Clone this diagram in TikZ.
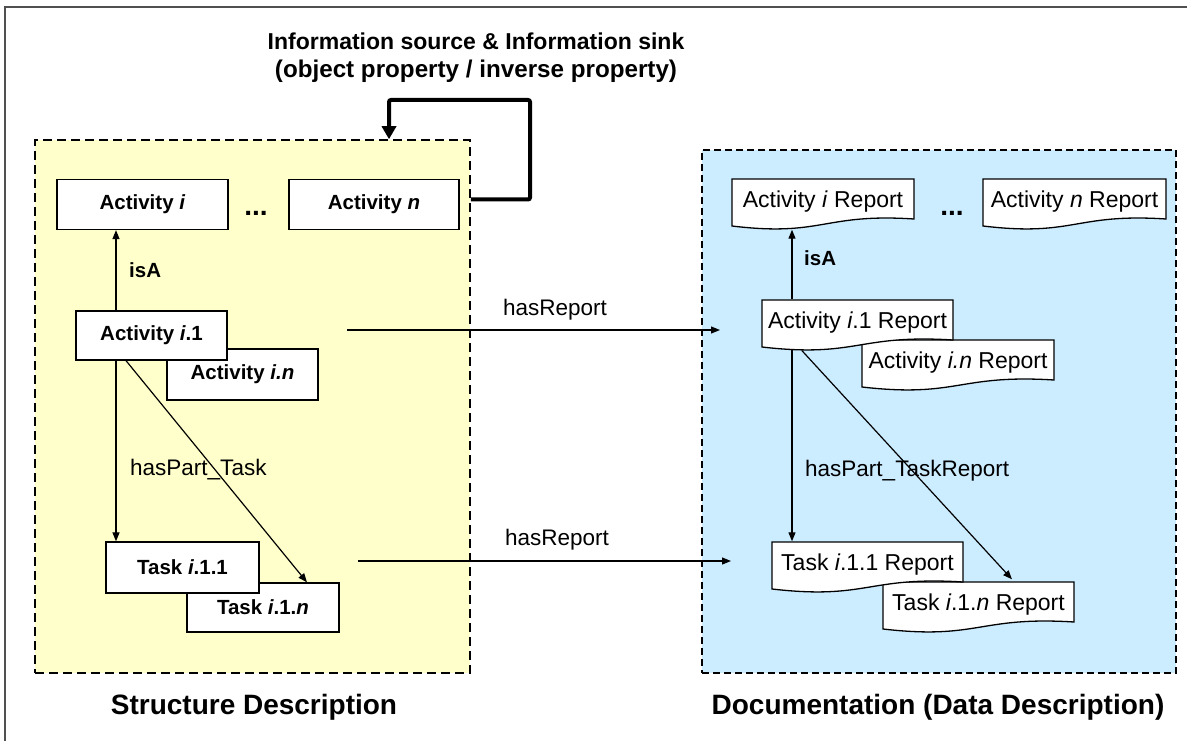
\documentclass[tikz,border=0pt]{standalone}
\usepackage{fontspec}
\setmainfont{Liberation Sans}
\usetikzlibrary{arrows.meta,calc}
\definecolor{yellowbg}{HTML}{FFFFCC}
\definecolor{bluebg}{HTML}{CCECFF}
\definecolor{framegray}{HTML}{505050}
\newcommand{\fs}[1]{\fontsize{#1}{#1}\selectfont}
\tikzset{
  boxnode/.style={draw=black, fill=white, line width=1.3pt, minimum height=50pt, inner sep=0pt, font=\fs{20.5}\bfseries},
  reptext/.style={inner sep=0pt, minimum height=47pt, font=\fs{23}},
  docline/.style={draw=black, fill=white, line width=1.3pt, line join=miter},
  lbl/.style={inner sep=0pt, font=\fs{22.5}},
  lblb/.style={inner sep=0pt, font=\fs{20.5}\bfseries},
  arr/.style={line width=1.2pt, -{Triangle[length=9pt,width=7pt]}},
  loopline/.style={line width=4pt, rounded corners=2pt, -{Triangle[length=13pt,width=14pt]}},
  region/.style={draw=black, line width=1.5pt, dash pattern=on 9pt off 5pt, inner sep=0pt},
  caption/.style={font=\fs{28}\bfseries, inner sep=0pt},
  titletext/.style={font=\fs{23}\bfseries, inner sep=0pt},
  ellipsis/.style={font=\fs{28}\bfseries, inner sep=0pt},
}
\newcommand{\docnode}[5]{%
  \begin{scope}[shift={(#2,#3)}]
    \draw[docline] (0,0) -- (#4,0) -- (#4,40) .. controls ({0.5*#4},34) and ({0.5*#4},58) .. (0,47) -- cycle;
  \end{scope}
  \node[reptext, minimum width=#4pt] (#1) at ({#2+0.5*#4},{#3+23}) {#5};}
\begin{document}
\begin{tikzpicture}[x=1pt,y=-1pt]
\useasboundingbox (0,0) rectangle (1187,741);
\draw[framegray, line width=2pt] (5,741) -- (5,7) -- (1187,7);

% regions
\node[region, fill=yellowbg, minimum width=435pt, minimum height=533pt] (left) at (252.5,406.5) {};
\node[region, fill=bluebg, line width=1.2pt, dash pattern=on 7pt off 4pt, minimum width=474pt, minimum height=523pt] (right) at (939,411.5) {};

% title
\node[titletext] (title1) at (476,41) {Information source \& Information sink};
\node[titletext, font=\fs{24.2}\bfseries] (title2) at (476,71) {(object property / inverse property)};

% left nodes
\node[boxnode, minimum width=171pt] (acti) at (142.5,204.5) {Activity \textit{i}};
\node[boxnode, minimum width=170pt] (actn) at (374,204.5) {Activity \textit{n}};
\node[ellipsis] (dotsL) at (256,213) {...};
\node[boxnode, minimum width=151pt, minimum height=51pt] (actin) at (242.5,374.5) {Activity \textit{i.n}};
\node[boxnode, minimum width=151pt, minimum height=49pt] (acti1) at (151.5,335.5) {Activity \textit{i}.1};
\node[boxnode, minimum width=152pt, minimum height=49pt] (taskn) at (263,607.5) {Task \textit{i}.1.\textit{n}};
\node[boxnode, minimum width=153pt, minimum height=51pt] (task1) at (182.5,567.5) {Task \textit{i}.1.1};

% loop
\coordinate (ls) at ($(actn.east -| left.east)+(0,-5)$);
\coordinate (lt) at (530,100);
\coordinate (ld) at (389,100);
\draw[loopline] (ls) -| (lt) -- (ld) -- (left.north -| ld);

% left connectors
\coordinate (xL) at (116,0);
\coordinate (xd1) at (126,0);
\coordinate (xd2) at (307,0);
\draw[arr] (acti1.north -| xL) -- (acti.south -| xL);
\node[lblb, anchor=west] (isaL) at (129,270) {isA};
\draw[arr] (acti1.south -| xL) -- (task1.north -| xL);
\draw[arr] (acti1.south -| xd1) -- (taskn.north -| xd2);
\node[lbl, anchor=west] (hpt) at (130,470) {hasPart\_Task};

% right nodes
\docnode{repi}{732}{179}{182}{Activity \textit{i} Report}
\docnode{repn}{983}{179}{183}{Activity \textit{n} Report}
\node[ellipsis] (dotsR) at (952,213) {...};
\docnode{repin}{862}{340}{192}{Activity \textit{i.n} Report}
\docnode{repi1}{762}{300}{191}{Activity \textit{i}.1 Report}
\docnode{reptn}{883}{582}{191}{Task \textit{i}.1.\textit{n} Report}
\docnode{rept1}{772}{542}{191}{Task \textit{i}.1.1 Report}

% right connectors
\coordinate (xR) at (792,0);
\coordinate (xr1) at (802,0);
\coordinate (xr2) at (1012,0);
\coordinate (repiB) at ($(repi.south -| xR)+(0,4)$);
\draw[arr] (repi1.north -| xR) -- (repiB);
\node[lblb, anchor=west] (isaR) at (804,258) {isA};
\coordinate (ri1a) at ($(repi1.south -| xR)+(0,3)$);
\coordinate (ri1b) at ($(repi1.south -| xr1)+(0,4)$);
\draw[arr] (ri1a) -- (rept1.north -| xR);
\draw[arr] (ri1b) -- ($(reptn.north -| xr2)+(0,-2)$);
\node[lbl, anchor=west] (hptr) at (805,471) {hasPart\_TaskReport};

% hasReport
\coordinate (hr1s) at (347,330);
\coordinate (hr1e) at (720,330);
\coordinate (hr2s) at (358,561);
\coordinate (hr2e) at (731,561);
\draw[arr] (hr1s) -- (hr1e);
\node[lbl] (hr1l) at (555,310) {hasReport};
\draw[arr] (hr2s) -- (hr2e);
\node[lbl] (hr2l) at (557,540) {hasReport};

% captions
\node[caption] (capL) at (254,707) {Structure Description};
\node[caption] (capR) at (938,707) {Documentation (Data Description)};
\end{tikzpicture}
\end{document}
